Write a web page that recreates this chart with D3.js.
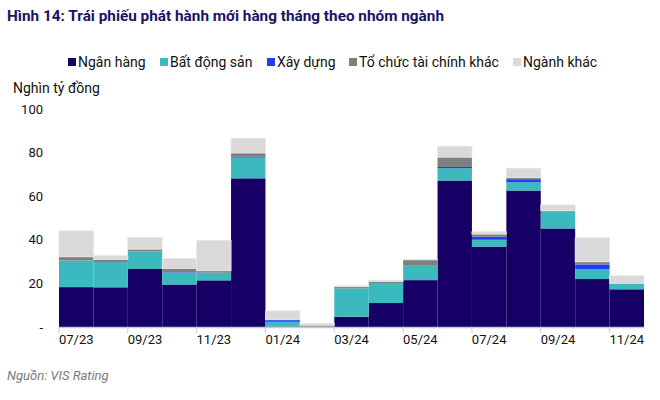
<!DOCTYPE html>
<html><head><meta charset="utf-8">
<script src="https://cdn.jsdelivr.net/npm/d3@7"></script>
<style>body{margin:0;background:#fff}svg{display:block;font-family:Roboto,"Noto Sans",sans-serif}</style>
</head><body><svg id="c" width="660" height="400"></svg>
<script>
const months = ["07/23","08/23","09/23","10/23","11/23","12/23","01/24","02/24","03/24","04/24","05/24","06/24","07/24","08/24","09/24","10/24","11/24"];
const seriesNames = ["Ngân hàng","Bất động sản","Xây dựng","Tổ chức tài chính khác","Ngành khác"];
const nganHang   = [18.3,18.2,26.6,19.5,21.4,68.2,0.2,0.1,4.7,11.0,21.5,67.2,36.9,62.6,45.2,22.0,17.3];
const batDongSan = [12.2,11.6,8.1,5.4,3.5,9.5,2.2,0.1,13.0,9.2,6.6,5.6,3.1,3.8,7.9,4.6,2.7];
const xayDung    = [0,0,0,0.2,0,0.5,0.9,0,0,0,0,0.6,1.4,1.4,0,2.1,0];
const toChucTC   = [1.7,1.2,1.0,1.8,0.9,1.6,0,0.6,0.8,0.7,2.7,4.5,1.2,0.7,0.3,1.2,0];
const nganhKhac  = [11.9,1.7,5.4,4.6,13.9,6.8,4.1,0.9,0.4,0.6,0.2,5.0,1.1,4.3,2.6,11.0,3.5];
const yTicks = [0,20,40,60,80,100];
const colors = ["#160066","#3cb9bf","#1f3cff","#7f7f7f","#d9d9d9"];

const svg = d3.select("#c");
const x = d3.scaleBand().domain(months).range([59,644]).padding(0);
const y = d3.scaleLinear().domain([0,100]).range([327,109]);

const rows = months.map((m,i)=>({m, s0:nganHang[i], s1:batDongSan[i], s2:xayDung[i], s3:toChucTC[i], s4:nganhKhac[i]}));
const keys = ["s0","s1","s2","s3","s4"];
const stack = d3.stack().keys(keys)(rows);

svg.append("text").attr("x",7).attr("y",21).attr("fill","#1b1464")
  .attr("font-weight","bold").attr("font-size",15)
  .attr("textLength",437).attr("lengthAdjust","spacingAndGlyphs")
  .text("Hình 14: Trái phiếu phát hành mới hàng tháng theo nhóm ngành");

// legend
const legX = [68,160,267,349,513];
seriesNames.forEach((n,i)=>{
  const g = svg.append("g").attr("transform",`translate(${legX[i]},62)`);
  g.append("rect").attr("x",0).attr("y",-4).attr("width",8).attr("height",8).attr("fill",colors[i]);
  g.append("text").attr("x",10).attr("y",5).attr("font-size",14).attr("fill","#111").text(n);
});

svg.append("text").attr("x",13).attr("y",93).attr("font-size",14).attr("fill","#111").text("Nghìn tỷ đồng");

// bars
stack.forEach((layer,li)=>{
  svg.append("g").selectAll("rect").data(layer).join("rect")
    .attr("x",d=>x(d.data.m)).attr("width",x.bandwidth())
    .attr("y",d=>y(d[1])).attr("height",d=>Math.max(0,y(d[0])-y(d[1])))
    .attr("fill",colors[li])
    .attr("stroke", li===4 ? "#e6e6e6" : "none").attr("stroke-width",0.8);
});

// y axis labels
svg.append("g").selectAll("text").data(yTicks).join("text")
  .attr("x",43).attr("y",d=>y(d)+4.5).attr("text-anchor","end")
  .attr("font-size",13).attr("fill","#111")
  .text(d=>d===0?"-":d);

// x axis
const xAxis = d3.axisBottom(x).tickSize(0).tickFormat((d,i)=>i%2===0?d:"");
const ax = svg.append("g").attr("transform","translate(0,327)").call(xAxis);
ax.select(".domain").attr("stroke","#c9c6dc").attr("stroke-width",1.5);
ax.selectAll("text").attr("font-size",13).attr("fill","#111").attr("dy","1.05em").style("font-family","Roboto");
svg.append("g").selectAll("line").data(months.filter((d,i)=>i%2===0)).join("line")
  .attr("x1",d=>x(d)).attr("x2",d=>x(d)).attr("y1",327).attr("y2",333)
  .attr("stroke","#cccccc");

svg.append("text").attr("x",7).attr("y",380).attr("font-size",13).attr("font-style","italic")
  .attr("fill","#7a7a7a").text("Nguồn: VIS Rating");
</script></body></html>
